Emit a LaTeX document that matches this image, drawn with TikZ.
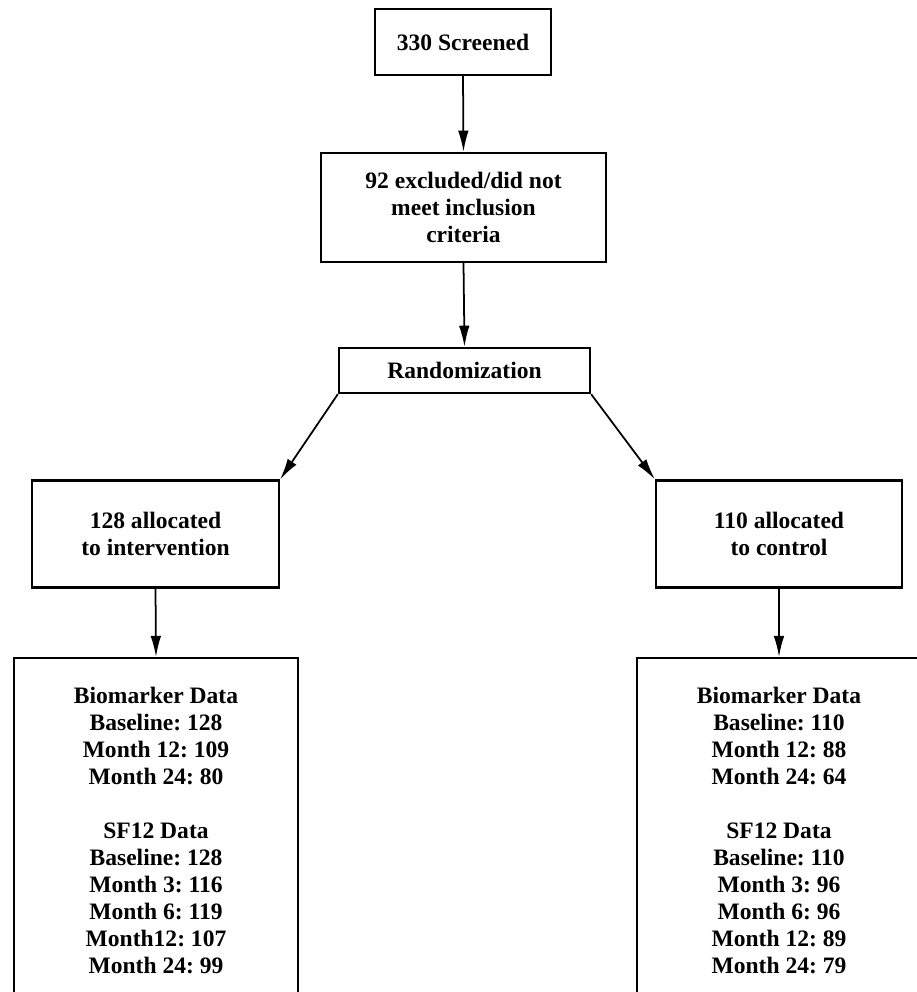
\documentclass[tikz,border=0pt]{standalone}
\usepackage{fontspec}
\setmainfont{Liberation Serif}
\usepackage{tikz}
\usetikzlibrary{arrows.meta, positioning}
\frenchspacing

\begin{document}
\begin{tikzpicture}[
    x=0.02cm, y=-0.02cm,
    box/.style={rectangle, draw=black, line width=1.4pt, align=center, font=\fontsize{13.4}{15.4}\selectfont\bfseries},
    databox/.style={box, anchor=north, minimum width=5.68cm, minimum height=6.9cm},
    arrow/.style={-{Latex[length=12pt, width=6pt]}, line width=1pt}
]

% frame of the picture (lower boxes run past it)
\useasboundingbox (0,0) rectangle (917,992);
\clip (0,0) rectangle (917,992);

% === Screening ===
\node[box, minimum width=3.52cm, minimum height=1.32cm] (screened) at (463, 42) {330 Screened};
\node[box, minimum width=5.7cm, minimum height=2.18cm] (excluded) at (463.5, 207.5) {92 excluded/did not\\meet inclusion\\criteria};
\node[box, minimum width=5.02cm, minimum height=0.9cm] (random) at (464.5, 370.5) {Randomization};

% === Allocation ===
\node[box, minimum width=4.94cm, minimum height=2.14cm] (interv) at (155.5, 534) {128 allocated\\to intervention};
\node[box, minimum width=4.92cm, minimum height=2.14cm] (control) at (779, 534) {110 allocated\\to control};

% === Follow-up data ===
\node[databox] (intervdata) at (156, 657) {
    Biomarker Data\\
    Baseline: 128\\
    Month 12: 109\\
    Month 24: 80\\[15.4pt]
    SF12 Data\\
    Baseline: 128\\
    Month 3: 116\\
    Month 6: 119\\
    Month12: 107\\
    Month 24: 99
};
\node[databox] (controldata) at (779, 657) {
    Biomarker Data\\
    Baseline: 110\\
    Month 12: 88\\
    Month 24: 64\\[15.4pt]
    SF12 Data\\
    Baseline: 110\\
    Month 3: 96\\
    Month 6: 96\\
    Month 12: 89\\
    Month 24: 79
};

% === Arrows ===
\draw[arrow] (screened.south) -- (excluded.north);
\draw[arrow] (excluded.south) -- (random.north);
\draw[arrow] (random.south west) -- (interv.north east);
\draw[arrow] (random.south east) -- (control.north west);
\draw[arrow] (interv.south) -- (intervdata.north);
\draw[arrow] (control.south) -- (controldata.north);

\end{tikzpicture}
\end{document}
